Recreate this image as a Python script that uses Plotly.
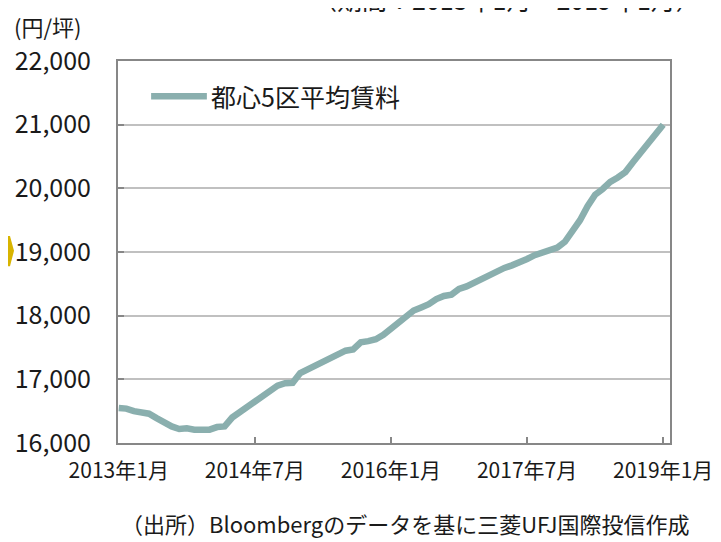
import plotly.graph_objects as go

# 都心5区平均賃料 monthly, 2013年1月 .. 2019年1月 (円/坪)
months = list(range(73))
rent = [16550, 16540, 16500, 16480, 16460, 16390, 16310, 16260, 16220, 16230,
        16210, 16200, 16210, 16250, 16260, 16400, 16480, 16580, 16650, 16730,
        16800, 16900, 16940, 16945, 17100, 17160, 17200, 17260, 17320, 17400,
        17450, 17470, 17580, 17600, 17630, 17700, 17800, 17910, 17990, 18080,
        18130, 18180, 18260, 18310, 18330, 18420, 18460, 18520, 18570, 18630,
        18690, 18750, 18790, 18830, 18890, 18950, 18990, 19040, 19070, 19160,
        19310, 19500, 19720, 19900, 19990, 20100, 20170, 20255, 20410, 20560,
        20720, 20860, 21000]
tick_pos = [0, 18, 36, 54, 72]
tick_text = ["2013年1月", "2014年7月", "2016年1月", "2017年7月", "2019年1月"]
y_ticks = [16000, 17000, 18000, 19000, 20000, 21000, 22000]
series_name = "都心5区平均賃料"

FONT = "Noto Sans CJK JP"
LINE_COLOR = "#8aafae"
AX_COLOR = "#878787"

fig = go.Figure()
fig.add_trace(go.Scatter(x=months, y=rent, mode="lines", name=series_name,
                         line=dict(color=LINE_COLOR, width=6.5), showlegend=False))

fig.update_layout(
    width=721, height=542,
    margin=dict(l=110, r=59, t=53, b=107),
    paper_bgcolor="white", plot_bgcolor="white",
    font=dict(family=FONT, color="#1a1a1a"),
    xaxis=dict(range=[-0.1, 72.9], tickvals=tick_pos, ticktext=tick_text,
               showgrid=False, zeroline=False, showline=True, mirror=True,
               linecolor=AX_COLOR, linewidth=2, ticks="inside", ticklen=6,
               tickcolor=AX_COLOR, tickwidth=1.5, ticklabelstandoff=8,
               automargin=False, tickfont=dict(size=21, family=FONT)),
    yaxis=dict(range=[16000, 22000], tickvals=y_ticks,
               tickformat=",d", showgrid=True, gridcolor="#c0c0c0", gridwidth=2,
               zeroline=False, showline=True, mirror=True,
               linecolor=AX_COLOR, linewidth=2, ticks="inside", ticklen=6,
               tickcolor=AX_COLOR, tickwidth=1.5, ticklabelstandoff=20,
               automargin=False, tickfont=dict(size=25, family=FONT)),
)

# manual legend
fig.add_shape(type="line", xref="paper", yref="paper", x0=0.060, x1=0.161,
              y0=0.908, y1=0.908, line=dict(color=LINE_COLOR, width=6.5))
fig.add_annotation(xref="paper", yref="paper", x=0.165, y=0.908, xanchor="left",
                   yanchor="middle", text=series_name, showarrow=False,
                   font=dict(size=25, family=FONT, color="#1a1a1a"))

# unit label
fig.add_annotation(xref="paper", yref="paper", x=-0.192, y=1.0916, xanchor="left",
                   yanchor="middle", text="(円/坪)", showarrow=False,
                   font=dict(size=22, family=FONT, color="#1a1a1a"))

# source caption
fig.add_annotation(xref="paper", yref="paper", x=0.52, y=-0.21, xanchor="center",
                   yanchor="middle", text="（出所）Bloombergのデータを基に三菱UFJ国際投信作成",
                   showarrow=False, font=dict(size=22, family=FONT, color="#1a1a1a"))

# partially visible period text at top
fig.add_annotation(xref="paper", yref="paper", x=0.703, y=1.11, xanchor="center",
                   yanchor="bottom", text="（期間：2013年1月～2019年1月）",
                   showarrow=False, font=dict(size=25, family=FONT, color="#1a1a1a"))

# yellow marker at left edge
fig.add_shape(type="path", xref="paper", yref="paper",
              path="M -0.1993 0.542 L -0.1957 0.542 L -0.1884 0.503 L -0.1957 0.463 L -0.1993 0.463 Z",
              fillcolor="#d8b400", line=dict(width=0))

fig.write_html("out.html")
